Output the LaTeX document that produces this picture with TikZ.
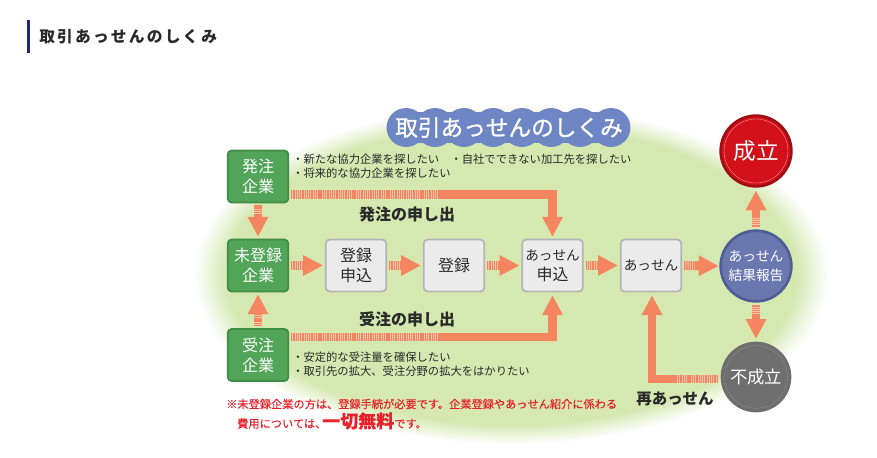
\documentclass[tikz,border=0pt]{standalone}
\usepackage{fontspec}
\setmainfont{Noto Sans CJK JP}
\usetikzlibrary{arrows.meta,calc}
\definecolor{blobgreen}{HTML}{D5E8B0}
\definecolor{arrowc}{HTML}{F4855F}
\definecolor{taillight}{HTML}{F9C4A8}
\definecolor{greenfill}{HTML}{51A458}
\definecolor{greenedge}{HTML}{3F8C46}
\definecolor{greyfill}{HTML}{EBEBEB}
\definecolor{greyedge}{HTML}{B4B4B4}
\definecolor{pill}{HTML}{6F86C4}
\definecolor{navy}{HTML}{1B2A80}
\definecolor{redtext}{HTML}{E8202A}
\definecolor{inktext}{HTML}{2A2A2A}
\definecolor{redfill}{HTML}{D2111A}
\definecolor{rededge}{HTML}{A00D12}
\definecolor{bluefill}{HTML}{6B78B0}
\definecolor{blueedge}{HTML}{505E98}
\definecolor{darkfill}{HTML}{6E6E6E}
\tikzset{
  basebox/.style={rectangle,rounded corners=3pt,minimum width=45.5pt,minimum height=39pt,inner sep=0pt,outer sep=0.5pt,line width=1.3pt,align=center},
  greenbox/.style={basebox,fill=greenfill,draw=greenedge,text=white,font=\fontsize{12}{15}\selectfont},
  greybox/.style={basebox,fill=greyfill,draw=greyedge,text=inktext,font=\fontsize{12}{15}\selectfont},
  roundnode/.style={circle,inner sep=0pt,outer sep=0pt,line width=2pt,align=center,text=white},
  tailunder/.style={draw=taillight,line width=6.6pt},
  tailline/.style={draw=arrowc,line width=6.6pt,dash pattern=on 1pt off 0.7pt},
  solidline/.style={draw=arrowc,line width=6.6pt,line join=miter,-{Triangle[length=15pt,width=14.5pt]}},
  bandlabel/.style={font=\bfseries\fontsize{12}{14}\selectfont,text=inktext,inner sep=0pt},
  smalltext/.style={font=\fontsize{8.48}{10.5}\selectfont,text=inktext,align=left,inner sep=0pt,anchor=west},
  redline/.style={text=redtext,inner sep=0pt,anchor=west,font=\addfontfeature{FakeBold=0.15}\fontsize{8.4}{10}\selectfont}
}
\newcommand{\kana}[1]{{\fontsize{10.2}{15}\selectfont #1}}
\newcommand{\blockarrow}[4]{%
  \draw[tailunder,shorten <=#3*0.75pt,shorten >=(#4-#3-12)*0.75pt] (#1) -- (#2);
  \draw[tailline,shorten <=#3*0.75pt,shorten >=(#4-#3-12)*0.75pt] (#1) -- (#2);
  \draw[solidline,shorten <=(#3+11)*0.75pt,shorten >=#3*0.75pt] (#1) -- (#2);}
\begin{document}
\begin{tikzpicture}[x=0.75pt,y=-0.75pt]
\useasboundingbox (0,0) rectangle (877,457);
% page heading
\fill[navy] (27,20) rectangle (30,53);
\node[anchor=west,inner sep=0pt,text=inktext] (heading) at (39,37) {\addfontfeature{LetterSpace=14}\bfseries\fontsize{11.8}{13}\selectfont 取引あっせんのしくみ};
% soft green backdrop
\foreach \i in {0,5,...,100}{
  \pgfmathsetmacro{\rx}{318-33*\i/100}
  \pgfmathsetmacro{\ry}{170-20*\i/100}
  \fill[blobgreen!\i!white] (512,275) ellipse[x radius=\rx*0.75pt,y radius=\ry*0.75pt];
}
% title pill
\fill[pill] (406,112) rectangle (612,143);
\foreach \cx in {406,435,464,493,522,551,580,611}{
  \fill[pill] (\cx,127.5) circle (14.6pt);
}
\node[text=white,inner sep=0pt] (title) at (509,127.5) {\addfontfeature{FakeBold=1}\fontsize{17}{20}\selectfont 取引あっせんのしくみ};
% nodes
\node[greenbox] (order) at (258,176.5) {発注\\企業};
\node[greenbox] (unreg) at (258,265.5) {未登録\\企業};
\node[greenbox] (recv) at (258,355) {受注\\企業};
\node[greybox] (apply) at (356,265.5) {登録\\申込};
\node[greybox] (reg) at (454,265.5) {登録};
\node[greybox] (medapply) at (552.5,265.5) {\kana{あっせん}\\申込};
\node[greybox] (med) at (651,265.5) {\kana{あっせん}};
\node[roundnode,minimum size=53pt,fill=redfill,draw=rededge,font=\fontsize{17}{20}\selectfont] (ok) at (756,151) {成立};
\node[roundnode,minimum size=53pt,fill=bluefill,draw=blueedge,font=\fontsize{10.3}{14}\selectfont] (report) at (756,266) {あっせん\\結果報告};
\node[roundnode,minimum size=51pt,fill=darkfill,draw=darkfill,font=\fontsize{13}{15}\selectfont] (fail) at (756,377) {不成立};
\draw[red!45!white,line width=0.3pt] (756,151) circle (24pt);
\draw[black!45,line width=0.3pt] (756,377) circle (23.5pt);
% short arrows
\blockarrow{unreg.east}{apply.west}{2}{36}
\blockarrow{apply.east}{reg.west}{2}{36}
\blockarrow{reg.east}{medapply.west}{2}{37}
\blockarrow{medapply.east}{med.west}{2}{37}
\blockarrow{med.east}{report.west}{2}{37}
\blockarrow{order.south}{unreg.north}{2}{36}
\blockarrow{recv.north}{unreg.south}{2}{36}
\blockarrow{report.north}{ok.south}{4}{41}
\blockarrow{report.south}{fail.north}{4}{40}
% long arrows
\coordinate (ordertail) at (291,194.5);
\coordinate (orderjoin) at (440,194.5);
\coordinate (ordercorner) at (552.5,194.5);
\draw[tailunder] (ordertail) -- (orderjoin);
\draw[tailline] (ordertail) -- (orderjoin);
\draw[solidline,shorten >=2*0.75pt] (orderjoin) -- (ordercorner) -- (medapply.north);
\coordinate (recvtail) at (291,337);
\coordinate (recvjoin) at (440,337);
\coordinate (recvcorner) at (552.5,337);
\draw[tailunder] (recvtail) -- (recvjoin);
\draw[tailline] (recvtail) -- (recvjoin);
\draw[solidline,shorten >=3*0.75pt] (recvjoin) -- (recvcorner) -- (medapply.south);
\coordinate (failtail) at (718,379);
\coordinate (failjoin) at (676,379);
\coordinate (failcorner) at (652,379);
\draw[tailunder] (failtail) -- (failjoin);
\draw[tailline] (failtail) -- (failjoin);
\draw[solidline,shorten >=3*0.75pt] (failjoin) -- (failcorner) -- (failcorner |- med.south);
% labels
\node[bandlabel] (orderlabel) at (407,214) {発注の申し出};
\node[bandlabel] (recvlabel) at (407,319) {受注の申し出};
\node[bandlabel,font=\bfseries\fontsize{11.6}{14}\selectfont] (again) at (675,399) {再あっせん};
\node[smalltext] (ordertext) at (292,166) {・新たな協力企業を探したい　・自社でできない加工先を探したい\\・将来的な協力企業を探したい};
\node[smalltext] (recvtext) at (292,364) {・安定的な受注量を確保したい\\・取引先の拡大、受注分野の拡大をはかりたい};
\node[redline] (note1) at (226,404) {※未登録企業の方は、登録手続が必要です。企業登録やあっせん紹介に係わる};
\node[redline] (note2) at (237,421) {費用については、\hspace{-3pt}{\bfseries\fontsize{13.5}{14}\selectfont 一切無料}です。};
\end{tikzpicture}
\end{document}
